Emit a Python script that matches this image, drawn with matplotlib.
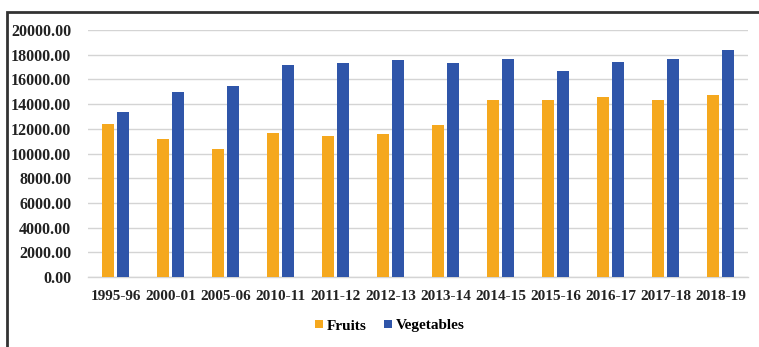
"""Fruits vs vegetables production, grouped bars by year."""

import matplotlib.pyplot as plt
import numpy as np
from matplotlib.patches import Rectangle

years = ["1995-96", "2000-01", "2005-06", "2010-11", "2011-12", "2012-13",
         "2013-14", "2014-15", "2015-16", "2016-17", "2017-18", "2018-19"]
fruits = [12400, 11200, 10400, 11700, 11400, 11600,
          12300, 14300, 14300, 14600, 14300, 14750]
vegetables = [13400, 15000, 15450, 17200, 17300, 17600,
              17300, 17650, 16700, 17400, 17650, 18400]

FRUIT_COLOR = "#F5A81E"
VEG_COLOR = "#2F55A9"
GRID_COLOR = "#D4D4D4"
FONT = "Liberation Serif"

W, H = 759, 347
fig = plt.figure(figsize=(W / 100, H / 100), dpi=100)

# outer frame (the chart object border, clipped at right/bottom)
fig.patches.append(Rectangle((7 / W, -0.05), 1.1, (H - 12) / H + 0.05,
                             transform=fig.transFigure, fill=False,
                             edgecolor="#333333", linewidth=2.0))

ax = fig.add_axes([88 / W, 1 - 277 / H, 660 / W, 247 / H])

x = np.arange(len(years))
bw = 0.22
off = 0.136
ax.bar(x - off, fruits, width=bw, color=FRUIT_COLOR, label="Fruits", zorder=3)
ax.bar(x + off, vegetables, width=bw, color=VEG_COLOR, label="Vegetables", zorder=3)

ax.set_xlim(-0.5, len(years) - 0.5)
ax.set_ylim(0, 20000)
ax.set_yticks(np.arange(0, 20001, 2000))
ax.set_yticklabels([f"{v:.2f}" for v in np.arange(0, 20001, 2000)])
ax.set_xticks(x)
ax.set_xticklabels(years)

for lab in ax.get_yticklabels():
    lab.set_fontfamily(FONT)
    lab.set_fontweight("bold")
    lab.set_fontsize(11.5)
    lab.set_color("#222222")
for lab in ax.get_xticklabels():
    lab.set_fontfamily(FONT)
    lab.set_fontweight("bold")
    lab.set_fontsize(11)
    lab.set_color("#222222")

ax.tick_params(axis="both", length=0)
ax.tick_params(axis="y", pad=12)
ax.tick_params(axis="x", pad=9)
ax.grid(True, axis="y", color=GRID_COLOR, linewidth=1.0, zorder=0)
for side in ["top", "right", "left"]:
    ax.spines[side].set_visible(False)
ax.spines["bottom"].set_color(GRID_COLOR)
ax.spines["bottom"].set_linewidth(1.0)

fig.legend(loc="center", bbox_to_anchor=(390 / W, 1 - 326 / H), ncol=2,
           frameon=False, handlelength=0.5, handleheight=0.5,
           handletextpad=0.3, columnspacing=1.1,
           prop={"family": FONT, "weight": "bold", "size": 11})

fig.savefig("out.png", dpi=100)
